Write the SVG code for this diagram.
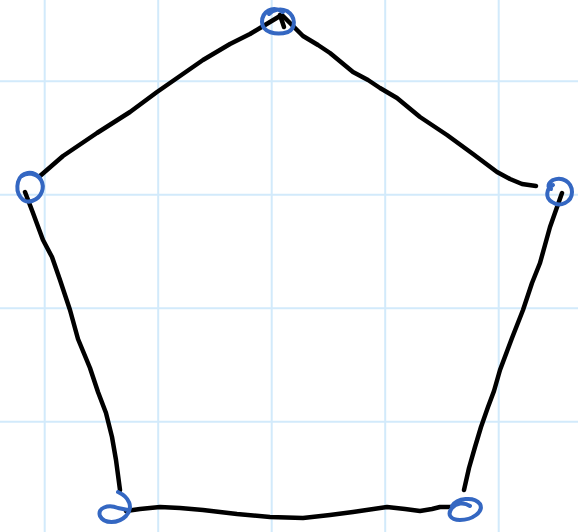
<svg xmlns="http://www.w3.org/2000/svg" width="578" height="532" viewBox="0 0 578 532">
<style>
.grid line{stroke:#d2eafb;stroke-width:2}
.edge{fill:none;stroke:#000;stroke-width:4.5;stroke-linecap:round;stroke-linejoin:round}
.node{fill:none;stroke:#3467c2;stroke-width:4;stroke-linecap:round;stroke-linejoin:round}
</style>
<rect width="578" height="532" fill="#fff"/>
<g class="grid">
<line x1="44.7" y1="0" x2="44.7" y2="532"/>
<line x1="158.2" y1="0" x2="158.2" y2="532"/>
<line x1="271.7" y1="0" x2="271.7" y2="532"/>
<line x1="385.2" y1="0" x2="385.2" y2="532"/>
<line x1="498.7" y1="0" x2="498.7" y2="532"/>
<line x1="0" y1="81.3" x2="578" y2="81.3"/>
<line x1="0" y1="194.8" x2="578" y2="194.8"/>
<line x1="0" y1="308.3" x2="578" y2="308.3"/>
<line x1="0" y1="421.8" x2="578" y2="421.8"/>
</g>
<g id="connectors">
<path class="edge" d="M 280 16 L 265 25 L 250 34 L 230 44 L 203 60 L 180 76 L 157 92 L 130 112 L 97 133 L 63 156 L 40 176"/>
<path class="edge" d="M 280 15 L 284 27"/>
<path class="edge" d="M 283 16 L 290 23 L 303 36 L 318 45 L 330 53 L 353 72 L 368 80 L 380 88 L 397 98 L 420 117 L 447 135 L 473 154 L 497 172 L 510 179 L 522 184 L 536 186"/>
<path class="edge" d="M 25 192 L 33 213 L 43 240 L 52 257 L 60 280 L 70 310 L 78 339 L 90 368 L 98 392 L 106 413 L 112 437 L 116 460 L 120 490"/>
<path class="edge" d="M 562 193 L 550 227 L 545 245 L 540 263 L 532 283 L 523 310 L 512 338 L 500 370 L 494 391 L 488 407 L 481 427 L 475 447 L 469 468 L 464 490"/>
<path class="edge" d="M 126 511 L 140 509 L 160 507 L 180 508 L 203 510 L 237 514 L 270 517 L 303 518 L 330 515 L 353 512 L 387 507 L 405 509 L 420 511 L 432 509 L 440 507 L 452 507"/>
</g>
<g id="n1"><path class="node" d="M 283 12 C 272 5, 262 12, 262 22 C 262 32, 276 36, 288 32 C 296 28, 296 17, 287 11 C 280 8, 273 10, 269 14"/></g>
<g id="n2"><path class="node" d="M 40 178 C 33 170, 21 171, 18 182 C 15 194, 23 204, 32 201 C 42 198, 45 187, 41 180 C 36 173, 27 172, 22 176"/></g>
<g id="n3"><path class="node" d="M 553 185 C 546 189, 545 198, 552 202 C 560 208, 572 202, 572 192 C 572 182, 562 176, 553 180 C 548 183, 547 187, 551 189"/></g>
<g id="n4"><path class="node" d="M 118 492 C 129 497, 134 507, 126 516 C 118 524, 104 524, 100 516 C 97 508, 108 504, 118 508 L 128 510"/></g>
<g id="n5"><path class="node" d="M 452 506 C 457 498, 474 496, 480 504 C 484 512, 472 520, 460 520 C 450 520, 447 514, 452 508 C 456 503, 464 502, 470 506"/></g>
</svg>
